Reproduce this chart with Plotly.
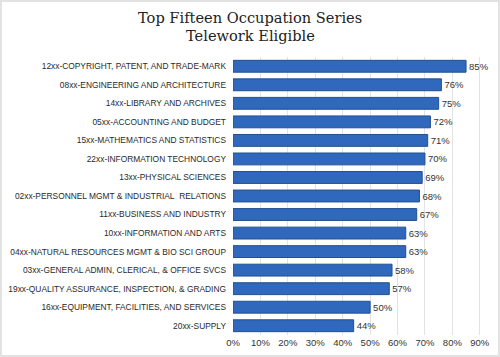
import plotly.graph_objects as go

categories = [
    "12xx-COPYRIGHT, PATENT, AND TRADE-MARK",
    "08xx-ENGINEERING AND ARCHITECTURE",
    "14xx-LIBRARY AND ARCHIVES",
    "05xx-ACCOUNTING AND BUDGET",
    "15xx-MATHEMATICS AND STATISTICS",
    "22xx-INFORMATION TECHNOLOGY",
    "13xx-PHYSICAL SCIENCES",
    "02xx-PERSONNEL MGMT & INDUSTRIAL\u00a0 RELATIONS",
    "11xx-BUSINESS AND INDUSTRY",
    "10xx-INFORMATION AND ARTS",
    "04xx-NATURAL RESOURCES MGMT & BIO SCI GROUP",
    "03xx-GENERAL ADMIN, CLERICAL, & OFFICE SVCS",
    "19xx-QUALITY ASSURANCE, INSPECTION, & GRADING",
    "16xx-EQUIPMENT, FACILITIES, AND SERVICES",
    "20xx-SUPPLY",
]
values = [0.85, 0.76, 0.75, 0.72, 0.71, 0.70, 0.69, 0.68, 0.67, 0.63, 0.63, 0.58, 0.57, 0.50, 0.44]
tick_vals = [0, 0.1, 0.2, 0.3, 0.4, 0.5, 0.6, 0.7, 0.8, 0.9]
tick_text = ["0%", "10%", "20%", "30%", "40%", "50%", "60%", "70%", "80%", "90%"]
title_lines = ["Top Fifteen Occupation Series", "Telework Eligible"]

W, H = 500, 357
L, R, T, B = 233, 12, 57, 22

fig = go.Figure(go.Bar(
    x=values, y=categories, orientation="h",
    marker=dict(color="#2f68bd", line=dict(color="#21508f", width=1)),
    text=[f"{round(v*100)}%" for v in values],
    textposition="outside", cliponaxis=False,
    textfont=dict(family="Liberation Sans, Arial", size=9.5, color="#333333"),
    width=0.64,
))

pw = W - L - R
ph = H - T - B
fig.add_shape(type="rect", xref="paper", yref="paper",
              x0=(1 - L) / pw, x1=(W - 1 - L) / pw,
              y0=-(B - 1) / ph, y1=1 + (T - 1) / ph,
              line=dict(color="#e2e2e2", width=2), layer="below")

for i, line in enumerate(title_lines):
    yc = 17 + 18 * i
    fig.add_annotation(text=line, xref="paper", yref="paper",
                       x=(W / 2 - L) / pw, y=1 + (T - yc) / ph,
                       xanchor="center", yanchor="middle", showarrow=False,
                       font=dict(family="DejaVu Serif, Liberation Serif, serif",
                                 size=14.6, color="#222222"))

fig.update_layout(
    width=W, height=H,
    margin=dict(l=L, r=R, t=T, b=B, autoexpand=False),
    paper_bgcolor="white", plot_bgcolor="white",
    showlegend=False,
    xaxis=dict(range=[0, 0.93], tickvals=tick_vals, ticktext=tick_text,
               showgrid=True, gridcolor="#e3e3e3", gridwidth=1, zeroline=False,
               showline=False, ticks="", automargin=False,
               tickfont=dict(family="Liberation Sans, Arial", size=9.5, color="#333333")),
    yaxis=dict(autorange="reversed", showgrid=False, ticks="", showline=False,
               ticklabelstandoff=6, automargin=False,
               tickfont=dict(family="Liberation Sans, Arial", size=8.4, color="#2a2a2a")),
)

fig.write_html("out.html", config={"displayModeBar": False},
               post_script="document.body.style.margin='0';")
